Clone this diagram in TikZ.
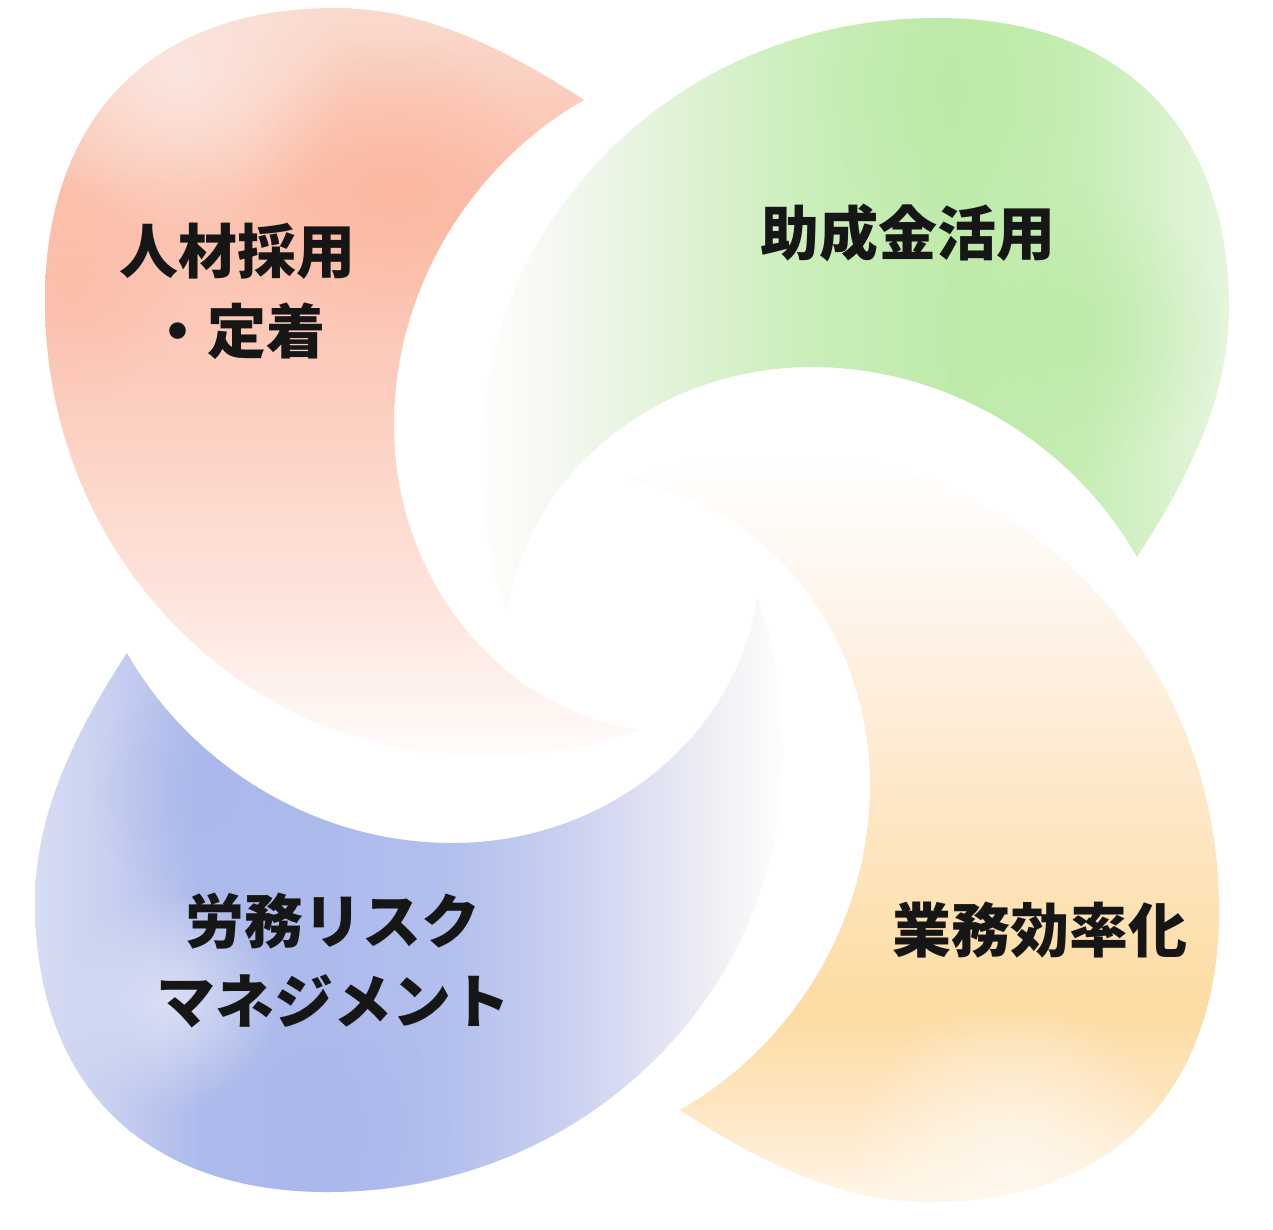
\documentclass[tikz,border=0pt]{standalone}
\usepackage{fontspec}
\newfontfamily\jp{Noto Sans CJK JP}
\usetikzlibrary{fadings}
\tikzfading[name=softblob, inner color=transparent!0, outer color=transparent!100]
\definecolor{txt}{HTML}{161616}
% red
\definecolor{rT}{HTML}{FADBD0}
\definecolor{rS}{HTML}{FBC0AB}
\definecolor{rA}{HTML}{FCCDBF}
\definecolor{rB}{HTML}{FDE2D9}
\definecolor{rC}{HTML}{FEF3EF}
\definecolor{rDeep}{HTML}{FBB49C}
\definecolor{rLight}{HTML}{FBE8E2}
% green
\definecolor{g1}{HTML}{F4F8F0}
\definecolor{g2}{HTML}{E0F2D6}
\definecolor{g3}{HTML}{CBEEBB}
\definecolor{g4}{HTML}{BFEBAA}
\definecolor{g5}{HTML}{C6EDB3}
\definecolor{g6}{HTML}{DCF3D1}
\definecolor{g7}{HTML}{E6F6E0}
\definecolor{gDeep}{HTML}{B9E9A2}
% orange
\definecolor{o1}{HTML}{FFF9F4}
\definecolor{o2}{HTML}{FEF1E3}
\definecolor{o3}{HTML}{FEE8CB}
\definecolor{o4}{HTML}{FDE2B5}
\definecolor{o5}{HTML}{FDDCA3}
\definecolor{o6}{HTML}{FEE5BF}
\definecolor{o7}{HTML}{FFF7EC}
\definecolor{oLight}{HTML}{FFF8EE}
% blue
\definecolor{b1}{HTML}{D9DEF2}
\definecolor{b2}{HTML}{C8D0F0}
\definecolor{b3}{HTML}{ADBBEC}
\definecolor{b4}{HTML}{ADBAEC}
\definecolor{b5}{HTML}{B3C0EE}
\definecolor{b6}{HTML}{C8CFF0}
\definecolor{b7}{HTML}{E0E1F3}
\definecolor{b8}{HTML}{F1F0F5}
\definecolor{bLight}{HTML}{DFE3F5}
\definecolor{bDeep}{HTML}{A7B5EA}

\pgfdeclareverticalshading{redv}{100bp}{color(0bp)=(white); color(25bp)=(white); color(29.5bp)=(rC); color(37.3bp)=(rB); color(49bp)=(rA); color(62.7bp)=(rS); color(75bp)=(rT); color(100bp)=(rT)}
\pgfdeclarehorizontalshading{greenh}{100bp}{color(0bp)=(white); color(25bp)=(white); color(30.8bp)=(g1); color(38.6bp)=(g2); color(46.4bp)=(g3); color(56.2bp)=(g4); color(64.6bp)=(g5); color(71.1bp)=(g6); color(75bp)=(g7); color(100bp)=(g7)}
\pgfdeclareverticalshading{orangev}{100bp}{color(0bp)=(o7); color(25bp)=(o7); color(32.2bp)=(o6); color(38.2bp)=(o5); color(45.4bp)=(o4); color(53.3bp)=(o3); color(61.8bp)=(o2); color(69bp)=(o1); color(75bp)=(white); color(100bp)=(white)}
\pgfdeclarehorizontalshading{blueh}{100bp}{color(0bp)=(b1); color(25bp)=(b1); color(30.6bp)=(b2); color(36.4bp)=(b3); color(44.9bp)=(b4); color(52.8bp)=(b5); color(60bp)=(b6); color(65.8bp)=(b7); color(70.4bp)=(b8); color(75bp)=(white); color(100bp)=(white)}

\newcommand\petalclip[1]{%
  \clip[rotate around={#1:(632,605)}]
    (584,100) .. controls (500,45) and (420,8) .. (335,8)
    .. controls (150,8) and (45,120) .. (45,300)
    .. controls (45,530) and (200,695) .. (367,740)
    .. controls (450,765) and (560,760) .. (640,730)
    .. controls (500,710) and (394,580) .. (394,425)
    .. controls (394,290) and (470,165) .. (584,100)
    -- cycle;}

\tikzset{
  lbl/.style={font=\jp\bfseries\fontsize{59}{80}\selectfont, align=center, text=txt, inner sep=0pt},
  blob/.style={path fading=softblob}
}

\begin{document}
\begin{tikzpicture}[x=1pt,y=-1pt]
\useasboundingbox (0,0) rectangle (1273,1229);
\fill[white] (0,0) rectangle (1273,1229);

% red petal (top left)
\begin{scope}
  \petalclip{0}
  \shade[shading=redv] (0,0) rectangle (700,770);
  \fill[rLight, blob, opacity=0.9] (180,70) circle (170);
  \fill[rDeep, blob, opacity=0.7] (395,190) circle (150);
  \fill[rDeep, blob, opacity=0.45] (70,290) circle (110);
\end{scope}

% green petal (top right)
\begin{scope}
  \petalclip{-90}
  \shade[shading=greenh] (470,5) rectangle (1240,625);
  \fill[gDeep, blob, opacity=0.6] (1080,330) circle (140);
  \fill[gDeep, blob, opacity=0.5] (950,90) circle (130);
\end{scope}

% orange petal (bottom right)
\begin{scope}
  \petalclip{180}
  \shade[shading=orangev] (600,450) rectangle (1240,1210);
  \fill[oLight, blob, opacity=0.9] (1010,1170) circle (170);
\end{scope}

% blue petal (bottom left)
\begin{scope}
  \petalclip{90}
  \shade[shading=blueh] (25,585) rectangle (790,1205);
  \fill[bLight, blob, opacity=0.9] (170,1000) circle (110);
  \fill[bDeep, blob, opacity=0.6] (330,1130) circle (120);
  \fill[bDeep, blob, opacity=0.5] (200,790) circle (110);
\end{scope}

% labels
\node[lbl] (hr) at (237,291) {人材採用\\・定着};
\node[lbl] (hj) at (908,233) {助成金活用};
\node[lbl] (gk) at (1040,930) {業務効率化};
\node[lbl] (rm) at (333,961) {労務リスク\\マネジメント};
\end{tikzpicture}
\end{document}
